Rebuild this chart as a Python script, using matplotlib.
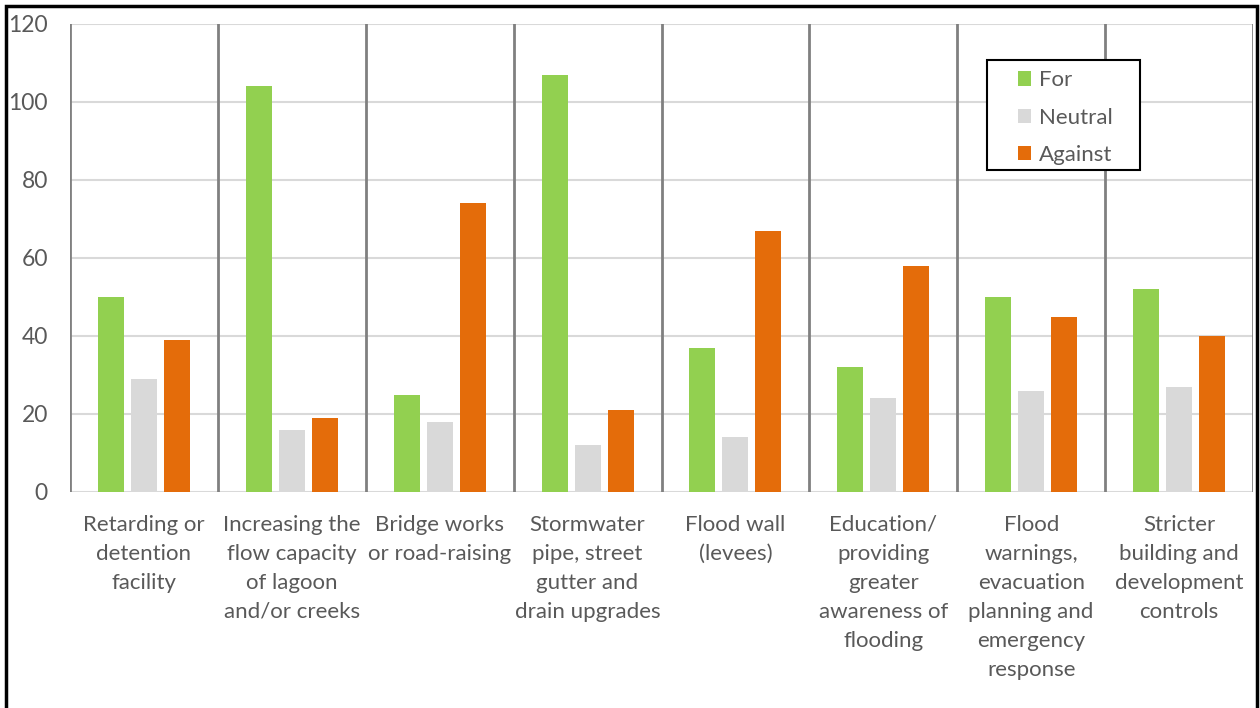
import matplotlib
matplotlib.use("Agg")
import matplotlib.pyplot as plt
import numpy as np
from matplotlib.patches import Rectangle

categories = [
    "Retarding or\ndetention\nfacility",
    "Increasing the\nflow capacity\nof lagoon\nand/or creeks",
    "Bridge works\nor road-raising",
    "Stormwater\npipe, street\ngutter and\ndrain upgrades",
    "Flood wall\n(levees)",
    "Education/\nproviding\ngreater\nawareness of\nflooding",
    "Flood\nwarnings,\nevacuation\nplanning and\nemergency\nresponse",
    "Stricter\nbuilding and\ndevelopment\ncontrols",
]
series_names = ["For", "Neutral", "Against"]
for_vals = [50, 104, 25, 107, 37, 32, 50, 52]
neutral_vals = [29, 16, 18, 12, 14, 24, 26, 27]
against_vals = [39, 19, 74, 21, 67, 58, 45, 40]
y_ticks = [0, 20, 40, 60, 80, 100, 120]

colors = ["#92D050", "#D9D9D9", "#E46C0A"]
text_color = "#595959"

plt.rcParams["font.family"] = ["Lato", "DejaVu Sans"]

fig = plt.figure(figsize=(12.6, 7.08), dpi=100)
ax = fig.add_axes([70 / 1260, 1 - 492 / 708, (1253 - 70) / 1260, (492 - 24) / 708])

x = np.arange(len(categories))
width = 0.176
offsets = [-0.223, 0.0, 0.223]
for vals, off, col, name in zip([for_vals, neutral_vals, against_vals], offsets, colors, series_names):
    ax.bar(x + off, vals, width=width, color=col, label=name, zorder=3)

ax.set_xlim(-0.5, len(categories) - 0.5)
ax.set_ylim(0, 120)
ax.set_yticks(y_ticks)
ax.set_xticks(x)
ax.set_xticklabels(categories, fontsize=16, color=text_color, linespacing=1.56)
ax.tick_params(axis="x", length=0, pad=16.5)
ax.tick_params(axis="y", length=0, pad=16, labelsize=16.5, labelcolor=text_color)

# horizontal gridlines
for yv in y_ticks:
    ax.axhline(yv, color="#D9D9D9", lw=1.5, zorder=1)
# category separators
for xv in np.arange(-0.5, len(categories), 1.0):
    ax.axvline(xv, color="#808080", lw=2, zorder=2)

for s in ax.spines.values():
    s.set_visible(False)

leg = ax.legend(loc="upper left", bbox_to_anchor=(0.801, 0.901), fontsize=16,
                frameon=False, handlelength=0.6, handleheight=0.6, handletextpad=0.35,
                labelspacing=0.78, borderpad=0, borderaxespad=0)
for t in leg.get_texts():
    t.set_color(text_color)

# legend box
ax.add_patch(Rectangle((0.7752, 0.688), 0.9045 - 0.7752, 0.923 - 0.688,
                       transform=ax.transAxes, fill=True, facecolor="white",
                       edgecolor="black", lw=1.5, zorder=4))
leg.set_zorder(5)

# outer chart border
fig.patches.append(Rectangle((6 / 1260, -0.05), (1257 - 6) / 1260, 1 - 6 / 708 + 0.05,
                             transform=fig.transFigure, fill=False, edgecolor="black",
                             lw=2.5, clip_on=False))

fig.savefig("out.png", dpi=100)
